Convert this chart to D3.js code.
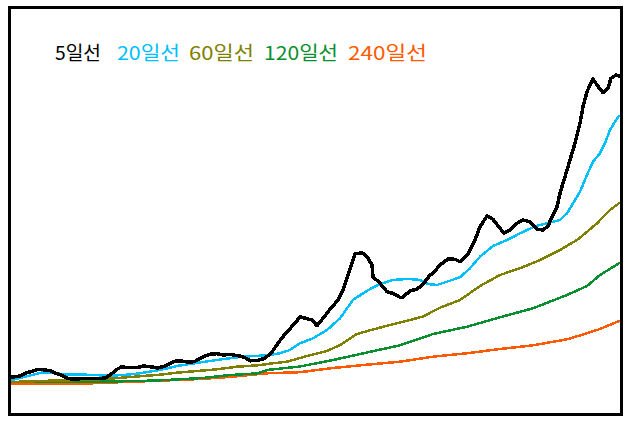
<!DOCTYPE html>
<html>
<head>
<meta charset="utf-8">
<script src="https://cdn.jsdelivr.net/npm/d3@7"></script>
<style>
  html, body { margin: 0; padding: 0; background: #fff; }
  svg { display: block; }
</style>
</head>
<body>
<div id="chart"></div>
<script>
// Legend labels
const seriesNames = ["5일선", "20일선", "60일선", "120일선", "240일선"];
const seriesColors = ["#000000", "#00bfff", "#808000", "#0a8f2f", "#ff5a00"];

// Day indices and values per moving-average line
const days5 = [0,8,15,21,26,31,38,43,50,56,65,75,85,93,98,105,110,116,125,131,138,146,153,158,165,171,178,183,190,198,205,211,218,228,233,238,246,253,260,266,271,275,283,288,295,300,305,311,318,326,331,336,343,350,355,360,361,368,375,378,381,388,390,398,405,408,413,418,421,428,436,443,448,456,463,468,475,481,488,492,498,505,511,518,525,531,536,540,545,548,553,558,563,568,571,575,581,585,591,596,599,604,607];
const ma5 = [379,390,423,440,457,453,443,420,397,363,360,367,363,370,400,457,483,473,473,490,483,470,490,517,543,537,527,537,577,607,613,600,605,590,573,542,547,567,630,718,783,833,917,983,963,950,893,967,1057,1150,1250,1400,1610,1623,1583,1500,1383,1317,1233,1223,1217,1177,1173,1240,1260,1283,1333,1400,1417,1500,1560,1557,1533,1607,1750,1883,1990,1957,1867,1817,1850,1917,1950,1933,1857,1850,1890,1983,2083,2217,2383,2550,2717,2917,3083,3233,3360,3300,3223,3267,3367,3400,3390];

const days20 = [0,11,21,31,41,51,65,81,98,111,125,138,151,165,178,191,205,218,231,246,255,268,278,288,301,315,328,341,355,368,381,395,405,410,416,425,435,448,458,468,481,495,508,521,528,535,548,555,561,568,575,581,588,593,598,603,607];
const ma20 = [350,377,403,427,427,407,407,400,393,400,413,433,457,490,510,530,550,568,583,592,597,617,650,717,767,850,967,1150,1243,1310,1350,1360,1355,1343,1310,1300,1333,1377,1467,1583,1690,1750,1817,1877,1900,1917,1950,2017,2117,2233,2400,2533,2617,2717,2850,2933,2990];

const days60 = [0,38,75,98,115,131,148,165,185,205,225,246,261,275,295,315,328,345,361,378,395,411,428,448,468,488,508,528,548,566,585,598,607];
const ma60 = [330,343,350,363,377,390,403,423,440,457,483,497,517,533,590,640,700,810,855,900,942,985,1073,1150,1290,1400,1467,1550,1650,1757,1917,2050,2117];

const days120 = [0,75,138,155,191,215,246,255,288,321,355,388,421,455,488,521,555,575,588,607];
const ma120 = [330,330,343,350,370,397,417,450,485,550,625,697,810,883,977,1067,1200,1290,1400,1517];

const days240 = [0,75,113,148,188,221,255,288,321,355,388,421,455,488,521,555,575,588,607];
const ma240 = [310,315,330,343,360,383,417,428,470,503,533,583,617,660,697,757,817,860,940];

const allDays = [days5, days20, days60, days120, days240];
const allValues = [ma5, ma20, ma60, ma120, ma240];
const strokeWidths = [3.5, 2.5, 2.5, 2.5, 2.5];

const W = 629, H = 422;
const svg = d3.select("#chart").append("svg")
  .attr("width", W).attr("height", H);

svg.append("rect").attr("width", W).attr("height", H).attr("fill", "#fff");

const x = d3.scaleLinear().domain([0, 607]).range([12, 619]);
const y = d3.scaleLinear().domain([0, 4000]).range([415, 15]);

const line = d3.line()
  .x(d => x(d[0]))
  .y(d => y(d[1]))
  .curve(d3.curveLinear);

// draw from slowest to fastest so black is on top
for (let i = 4; i >= 0; i--) {
  const pts = allDays[i].map((d, k) => [d, allValues[i][k]]);
  svg.append("path")
    .datum(pts)
    .attr("d", line)
    .attr("fill", "none")
    .attr("stroke", seriesColors[i])
    .attr("stroke-width", strokeWidths[i])
    .attr("stroke-linejoin", "round")
    .attr("stroke-linecap", "round")
    .attr("shape-rendering", "crispEdges");
}

// frame
svg.append("rect")
  .attr("x", 9.5).attr("y", 7.5)
  .attr("width", 612).attr("height", 407)
  .attr("fill", "none")
  .attr("stroke", "#000")
  .attr("stroke-width", 3)
  .attr("shape-rendering", "crispEdges");

// legend
const legendX = [55, 117, 189, 264, 348];
const legendW = [46, 63, 65, 74, 79];
const lg = svg.append("g")
  .attr("font-family", "'Noto Sans CJK KR', 'Noto Sans', sans-serif")
  .attr("font-size", 19);
seriesNames.forEach((name, i) => {
  lg.append("text")
    .attr("x", legendX[i])
    .attr("y", 60)
    .attr("fill", seriesColors[i])
    .attr("textLength", legendW[i])
    .attr("lengthAdjust", "spacingAndGlyphs")
    .text(name);
});
</script>
</body>
</html>
